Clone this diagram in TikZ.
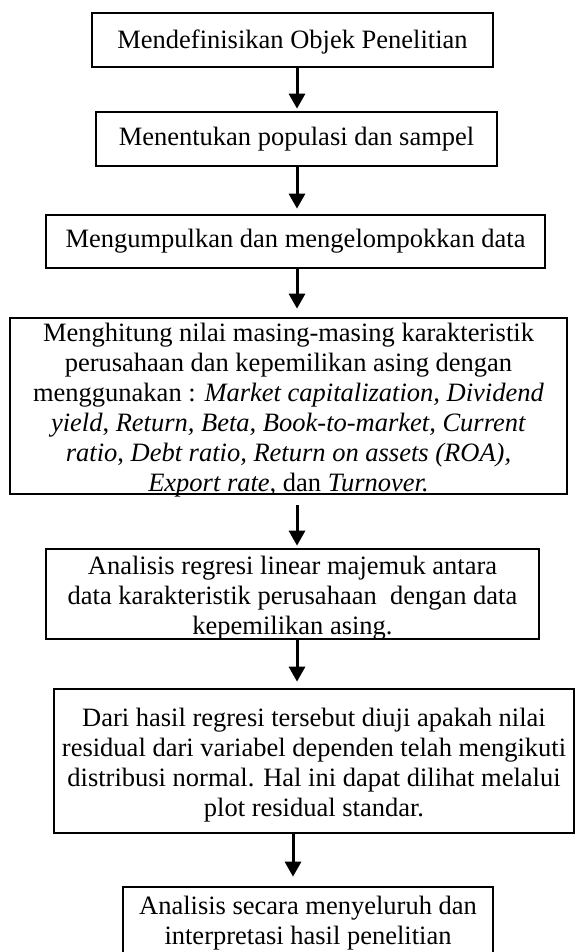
\documentclass[tikz,border=0pt]{standalone}
\usepackage{fontspec}
\setmainfont{Liberation Serif}
\usetikzlibrary{arrows.meta}
\tikzset{
  frame/.style={draw=black, line width=2.7pt, inner sep=0pt},
  txt/.style={inner sep=0pt, align=center, font=\fontsize{26.5pt}{30pt}\selectfont},
  arr/.style={line width=3pt, -{Triangle[width=16pt,length=15pt]}, shorten >=2pt}
}
\begin{document}
\begin{tikzpicture}[x=1pt,y=-1pt]
\useasboundingbox (0,0) rectangle (575,952);
\clip (0,0) rectangle (575,952);
\fill[white] (0,0) rectangle (575,952);
\node[frame, minimum width=401pt, minimum height=54pt] (b1) at (292.5,40) {};
\node[txt] (t1) at ([yshift=-2pt]b1.center) {Mendefinisikan Objek Penelitian};
\node[frame, minimum width=401pt, minimum height=54pt] (b2) at (296.5,139) {};
\node[txt] (t2) at (b2.center) {Menentukan populasi dan sampel};
\node[frame, minimum width=499pt, minimum height=53pt] (b3) at (295.5,241.5) {};
\node[txt] (t3) at (b3.center) {Mengumpulkan dan mengelompokkan data};
\node[frame, minimum width=557pt, minimum height=176pt] (b4) at (288.5,406) {};
\node[txt] (t4) at ([yshift=-4pt]b4.center) {Menghitung nilai masing-masing karakteristik\\
perusahaan dan kepemilikan asing dengan\\
menggunakan : \textit{Market capitalization, Dividend}\\
\textit{yield}, \textit{Return, Beta, Book-to-market, Current}\\
\textit{ratio}, \textit{Debt ratio, Return on assets (ROA),}\\
\textit{Export rate,} dan \textit{Turnover.}};
\node[frame, minimum width=493pt, minimum height=90pt] (b5) at (292.5,594) {};
\node[txt] (t5) at ([yshift=-4pt]b5.center) {Analisis regresi linear majemuk antara\\
data karakteristik perusahaan \ dengan data\\
kepemilikan asing.};
\node[frame, minimum width=520pt, minimum height=144pt] (b6) at (314,761) {};
\node[txt] (t6) at ([yshift=-4pt]b6.center) {Dari hasil regresi tersebut diuji apakah nilai\\
residual dari variabel dependen telah mengikuti\\
distribusi normal. Hal ini dapat dilihat melalui\\
plot residual standar.};
\node[frame, minimum width=370pt, minimum height=100pt] (b7) at (308,937) {};
\node[txt] (t7) at (308,923.5) {Analisis secara menyeluruh dan\\
interpretasi hasil penelitian};
\coordinate (ax) at (297,0);
\coordinate (ay) at (293,0);
\draw[arr] (b1.south -| ax) -- (b2.north -| ax);
\draw[arr, shorten >=5pt] (b2.south -| ax) -- (b3.north -| ax);
\draw[arr, shorten >=8pt] (b3.south -| ax) -- (b4.north -| ax);
\draw[arr, shorten <=10pt] (b4.south -| ax) -- (b5.north -| ax);
\draw[arr, shorten >=6pt] (b5.south -| ax) -- (b6.north -| ax);
\draw[arr, shorten >=9pt] (b6.south -| ay) -- (b7.north -| ay);
\end{tikzpicture}
\end{document}
